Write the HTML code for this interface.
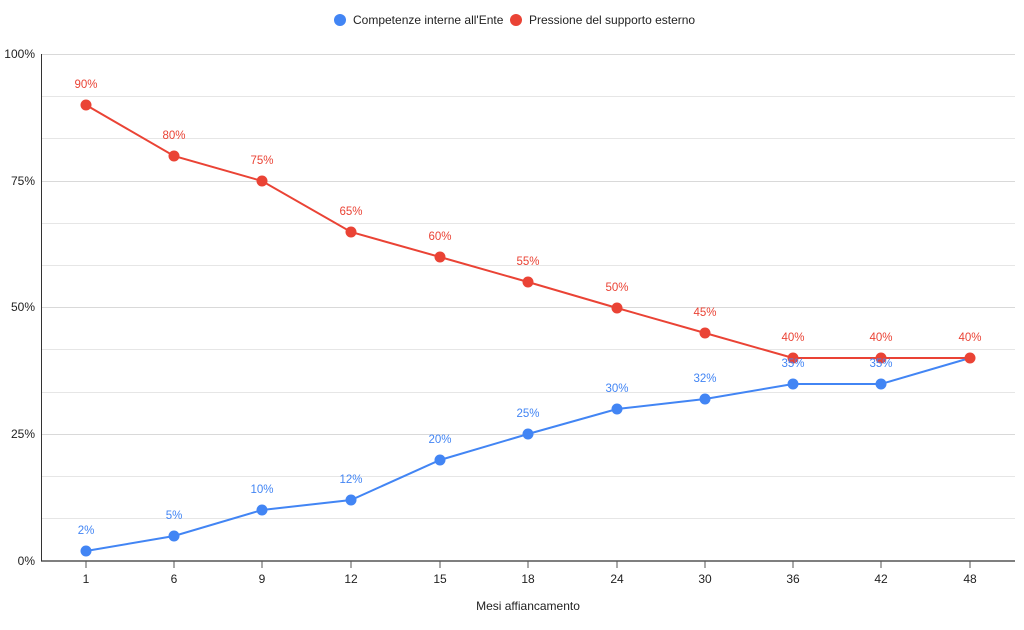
<!DOCTYPE html>
<html><head><meta charset="utf-8"><style>body{margin:0;background:#fff}svg{display:block;font-family:"Liberation Sans",Arial,sans-serif}</style></head><body>
<svg width="1024" height="630" xmlns="http://www.w3.org/2000/svg">
<g stroke="#e6e6e6" stroke-width="1">
<line x1="42" x2="1015" y1="54.5" y2="54.5" stroke="#d9d9d9"/>
<line x1="42" x2="1015" y1="96.5" y2="96.5"/>
<line x1="42" x2="1015" y1="138.5" y2="138.5"/>
<line x1="42" x2="1015" y1="181.5" y2="181.5" stroke="#d9d9d9"/>
<line x1="42" x2="1015" y1="223.5" y2="223.5"/>
<line x1="42" x2="1015" y1="265.5" y2="265.5"/>
<line x1="42" x2="1015" y1="307.5" y2="307.5" stroke="#d9d9d9"/>
<line x1="42" x2="1015" y1="349.5" y2="349.5"/>
<line x1="42" x2="1015" y1="392.5" y2="392.5"/>
<line x1="42" x2="1015" y1="434.5" y2="434.5" stroke="#d9d9d9"/>
<line x1="42" x2="1015" y1="476.5" y2="476.5"/>
<line x1="42" x2="1015" y1="518.5" y2="518.5"/>
</g>
<line x1="41.5" x2="41.5" y1="54" y2="561" stroke="#333"/>
<line x1="41" x2="1015" y1="561" y2="561" stroke="#333" stroke-width="1.3"/>
<g stroke="#555"><line x1="86" x2="86" y1="561" y2="568"/><line x1="174" x2="174" y1="561" y2="568"/><line x1="262" x2="262" y1="561" y2="568"/><line x1="351" x2="351" y1="561" y2="568"/><line x1="440" x2="440" y1="561" y2="568"/><line x1="528" x2="528" y1="561" y2="568"/><line x1="617" x2="617" y1="561" y2="568"/><line x1="705" x2="705" y1="561" y2="568"/><line x1="793" x2="793" y1="561" y2="568"/><line x1="881" x2="881" y1="561" y2="568"/><line x1="970" x2="970" y1="561" y2="568"/></g>
<g font-size="12" fill="#222" text-anchor="end"><text x="35" y="58">100%</text><text x="35" y="185">75%</text><text x="35" y="311">50%</text><text x="35" y="438">25%</text><text x="35" y="565">0%</text></g>
<g font-size="12" fill="#222" text-anchor="middle"><text x="86" y="583">1</text><text x="174" y="583">6</text><text x="262" y="583">9</text><text x="351" y="583">12</text><text x="440" y="583">15</text><text x="528" y="583">18</text><text x="617" y="583">24</text><text x="705" y="583">30</text><text x="793" y="583">36</text><text x="881" y="583">42</text><text x="970" y="583">48</text>
<text x="528" y="610">Mesi affiancamento</text></g>
<polyline fill="none" stroke="#ea4335" stroke-width="2" points="86,105 174,156 262,181 351,232 440,257 528,282 617,308 705,333 793,358 881,358 970,358"/>
<polyline fill="none" stroke="#4285f4" stroke-width="2" points="86,551 174,536 262,510 351,500 440,460 528,434 617,409 705,399 793,384 881,384 970,358"/>
<g fill="#ea4335"><circle cx="86" cy="105" r="5.5"/><circle cx="174" cy="156" r="5.5"/><circle cx="262" cy="181" r="5.5"/><circle cx="351" cy="232" r="5.5"/><circle cx="440" cy="257" r="5.5"/><circle cx="528" cy="282" r="5.5"/><circle cx="617" cy="308" r="5.5"/><circle cx="705" cy="333" r="5.5"/><circle cx="793" cy="358" r="5.5"/><circle cx="881" cy="358" r="5.5"/><circle cx="970" cy="358" r="5.5"/></g>
<g fill="#4285f4"><circle cx="86" cy="551" r="5.5"/><circle cx="174" cy="536" r="5.5"/><circle cx="262" cy="510" r="5.5"/><circle cx="351" cy="500" r="5.5"/><circle cx="440" cy="460" r="5.5"/><circle cx="528" cy="434" r="5.5"/><circle cx="617" cy="409" r="5.5"/><circle cx="705" cy="399" r="5.5"/><circle cx="793" cy="384" r="5.5"/><circle cx="881" cy="384" r="5.5"/></g>
<g font-size="11.5" fill="#ea4335" text-anchor="middle"><text x="86" y="88">90%</text><text x="174" y="139">80%</text><text x="262" y="164">75%</text><text x="351" y="215">65%</text><text x="440" y="240">60%</text><text x="528" y="265">55%</text><text x="617" y="291">50%</text><text x="705" y="316">45%</text><text x="793" y="341">40%</text><text x="881" y="341">40%</text><text x="970" y="341">40%</text></g>
<g font-size="11.5" fill="#4285f4" text-anchor="middle"><text x="86" y="534">2%</text><text x="174" y="519">5%</text><text x="262" y="493">10%</text><text x="351" y="483">12%</text><text x="440" y="443">20%</text><text x="528" y="417">25%</text><text x="617" y="392">30%</text><text x="705" y="382">32%</text><text x="793" y="367">35%</text><text x="881" y="367">35%</text></g>
<circle cx="340" cy="20" r="6" fill="#4285f4"/><text x="353" y="24" font-size="12" fill="#222">Competenze interne all'Ente</text>
<circle cx="516" cy="20" r="6" fill="#ea4335"/><text x="529" y="24" font-size="12" fill="#222">Pressione del supporto esterno</text>
</svg>
</body></html>
